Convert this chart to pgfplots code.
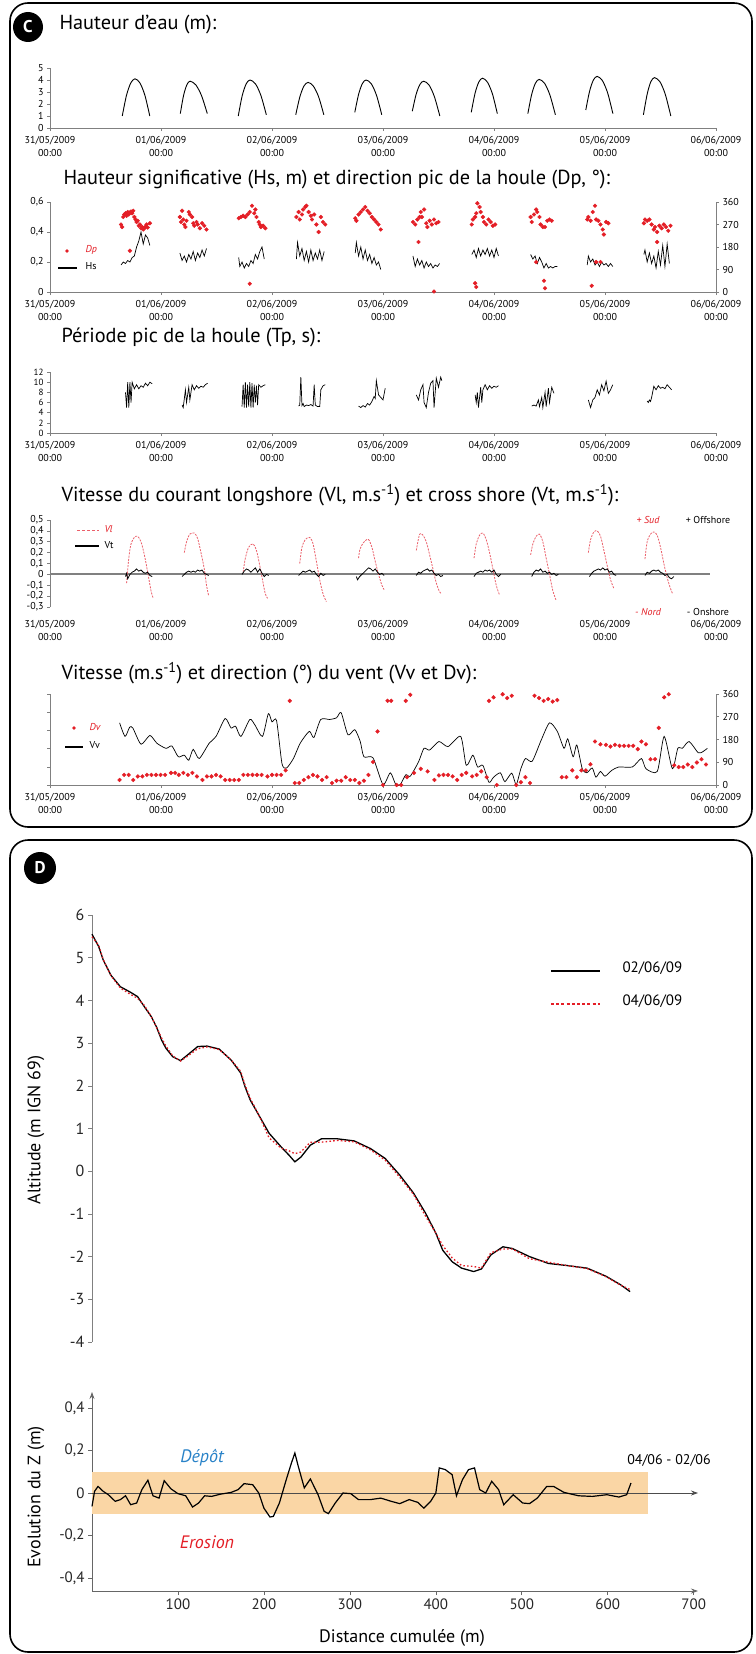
\documentclass[border=0pt]{standalone}
\usepackage{fontspec}
\setmainfont{PT Sans}
\usepackage{pgfplots}
\pgfplotsset{compat=1.18}
\usetikzlibrary{arrows.meta}
\definecolor{dred}{RGB}{228,30,38}
\definecolor{lred}{RGB}{235,95,105}
\definecolor{axgray}{RGB}{128,128,128}
\definecolor{bandor}{RGB}{250,214,165}
\definecolor{dblue}{RGB}{40,130,200}
\pgfplotsset{
  cstyle/.style={
    scale only axis, width=666pt, xmin=0, xmax=6,
    axis x line*=bottom, axis y line*=left,
    axis line style={axgray, line width=0.8pt},
    tick style={axgray, line width=0.6pt},
    tick align=outside, major tick length=3pt,
    xtick={0,1,2,3,4,5,6},
    xticklabels={{31/05/2009\\00:00},{01/06/2009\\00:00},{02/06/2009\\00:00},{03/06/2009\\00:00},{04/06/2009\\00:00},{05/06/2009\\00:00},{06/06/2009\\00:00}},
    xticklabel style={align=center, font=\fontsize{10}{13}\selectfont, yshift=-2pt},
    yticklabel style={font=\fontsize{10}{11}\selectfont},
    /pgf/number format/assume math mode=true,
    /pgf/number format/use comma,
    /pgf/number format/fixed,
    clip=false,
  },
  rstyle/.style={
    scale only axis, width=666pt, xmin=0, xmax=6,
    axis x line=none, axis y line*=right,
    axis line style={axgray, line width=0.8pt},
    tick style={axgray, line width=0.6pt},
    tick align=outside, major tick length=3pt,
    yticklabel style={font=\fontsize{10}{11}\selectfont},
    ymin=0, ymax=360, ytick={0,90,180,270,360},
    /pgf/number format/assume math mode=true,
    clip=false,
  },
  dot/.style={only marks, mark=*, mark size=1.9pt, dred, mark options={draw=dred, fill=dred}},
}
\begin{document}
\begin{tikzpicture}
\useasboundingbox (0pt,0pt) rectangle (755pt,-1654pt);
\fill[white] (0pt,0pt) rectangle (755pt,-1654pt);
% boxes
\draw[line width=1.6pt, rounded corners=18pt] (10pt,-3pt) rectangle (752pt,-827pt);
\draw[line width=1.6pt, rounded corners=18pt] (10pt,-840pt) rectangle (752pt,-1652pt);
\fill (28pt,-27pt) circle (15pt);
\node[white, font=\fontsize{17}{17}\selectfont\bfseries] at (28pt,-27pt) {C};
\fill (40pt,-868pt) circle (16pt);
\node[white, font=\fontsize{17}{17}\selectfont\bfseries] at (40pt,-868pt) {D};
% titles
\node[anchor=west, font=\fontsize{20.3}{23}\selectfont] at (56pt,-25pt) {Hauteur d'eau (m):};
\node[anchor=west, font=\fontsize{20.3}{23}\selectfont] at (60pt,-180pt) {Hauteur significative (Hs, m) et direction pic de la houle (Dp, °):};
\node[anchor=west, font=\fontsize{20.3}{23}\selectfont] at (58pt,-337pt) {Période pic de la houle (Tp, s):};
\node[anchor=west, font=\fontsize{20.3}{23}\selectfont] at (58pt,-495pt) {Vitesse du courant longshore (Vl, m.s\textsuperscript{-1}) et cross shore (Vt, m.s\textsuperscript{-1}):};
\node[anchor=west, font=\fontsize{20.3}{23}\selectfont] at (58pt,-673pt) {Vitesse (m.s\textsuperscript{-1}) et direction (°) du vent (Vv et Dv):};

% ---------- Plot 1 : Hauteur d'eau
\begin{axis}[cstyle, height=60pt, at={(50pt,-128pt)}, anchor=south west, ymin=0, ymax=5, ytick={0,1,2,3,4,5}]
\addplot[black, line width=0.9pt, smooth] coordinates {(0.651,1.0)(0.689,2.72)(0.728,3.76)(0.766,4.1)(0.810,3.76)(0.855,2.72)(0.899,1.0)};
\addplot[black, line width=0.9pt, smooth] coordinates {(1.174,1.2)(1.203,2.70)(1.233,3.60)(1.262,3.9)(1.313,3.60)(1.365,2.70)(1.417,1.2)};
\addplot[black, line width=0.9pt, smooth] coordinates {(1.696,1.0)(1.731,2.67)(1.767,3.67)(1.802,4.0)(1.851,3.68)(1.900,2.71)(1.949,1.1)};
\addplot[black, line width=0.9pt, smooth] coordinates {(2.214,1.1)(2.251,2.60)(2.288,3.50)(2.325,3.8)(2.372,3.50)(2.420,2.60)(2.467,1.1)};
\addplot[black, line width=0.9pt, smooth] coordinates {(2.746,1.3)(2.780,2.80)(2.814,3.70)(2.848,4.0)(2.895,3.68)(2.942,2.71)(2.989,1.1)};
\addplot[black, line width=0.9pt, smooth] coordinates {(3.264,1.4)(3.298,2.79)(3.332,3.62)(3.366,3.9)(3.415,3.58)(3.463,2.61)(3.512,1.0)};
\addplot[black, line width=0.9pt, smooth] coordinates {(3.795,1.3)(3.829,2.88)(3.863,3.83)(3.897,4.15)(3.941,3.82)(3.986,2.84)(4.030,1.2)};
\addplot[black, line width=0.9pt, smooth] coordinates {(4.305,1.2)(4.339,2.78)(4.373,3.73)(4.407,4.05)(4.456,3.72)(4.504,2.74)(4.553,1.1)};
\addplot[black, line width=0.9pt, smooth] coordinates {(4.827,1.5)(4.861,3.06)(4.895,3.99)(4.929,4.3)(4.976,3.96)(5.024,2.92)(5.071,1.2)};
\addplot[black, line width=0.9pt, smooth] coordinates {(5.346,1.1)(5.380,2.82)(5.413,3.86)(5.447,4.2)(5.496,3.84)(5.544,2.78)(5.593,1.0)};
\end{axis}

% ---------- Plot 2 : Hs and Dp
\begin{axis}[cstyle, height=90pt, at={(50pt,-292pt)}, anchor=south west, ymin=0, ymax=0.6, ytick={0,0.2,0.4,0.6}, /pgf/number format/precision=1, unbounded coords=jump]
\addplot[black, line width=0.7pt] coordinates {
(0.64,0.18)(0.66,0.20)(0.68,0.19)(0.70,0.21)(0.72,0.20)(0.74,0.23)(0.76,0.24)(0.78,0.30)(0.80,0.34)(0.82,0.40)(0.84,0.32)(0.86,0.38)(0.88,0.36)(0.90,0.31)(0.91,nan)
(1.17,0.26)(1.19,0.21)(1.21,0.24)(1.23,0.20)(1.25,0.25)(1.27,0.22)(1.29,0.27)(1.31,0.21)(1.33,0.26)(1.35,0.23)(1.37,0.28)(1.39,0.24)(1.41,0.29)(1.42,nan)
(1.70,0.23)(1.71,0.17)(1.73,0.20)(1.75,0.16)(1.77,0.19)(1.79,0.17)(1.81,0.21)(1.83,0.19)(1.85,0.25)(1.87,0.22)(1.89,0.27)(1.91,0.30)(1.93,0.22)(1.94,nan)
(2.22,0.22)(2.23,0.33)(2.25,0.24)(2.27,0.29)(2.29,0.21)(2.31,0.27)(2.33,0.20)(2.35,0.28)(2.37,0.21)(2.39,0.26)(2.41,0.22)(2.43,0.28)(2.45,0.21)(2.47,0.27)(2.48,nan)
(2.75,0.26)(2.76,0.33)(2.78,0.24)(2.80,0.30)(2.82,0.22)(2.84,0.28)(2.86,0.21)(2.88,0.25)(2.90,0.19)(2.92,0.23)(2.94,0.18)(2.96,0.20)(2.98,0.15)(2.99,nan)
(3.27,0.24)(3.29,0.17)(3.31,0.22)(3.33,0.18)(3.35,0.21)(3.37,0.16)(3.39,0.20)(3.41,0.17)(3.43,0.19)(3.45,0.16)(3.47,0.18)(3.49,0.17)(3.51,0.19)(3.52,nan)
(3.80,0.25)(3.82,0.28)(3.84,0.23)(3.86,0.29)(3.88,0.24)(3.90,0.28)(3.92,0.25)(3.94,0.29)(3.96,0.24)(3.98,0.28)(4.00,0.23)(4.02,0.29)(4.04,0.24)(4.05,nan)
(4.33,0.25)(4.35,0.22)(4.37,0.24)(4.39,0.19)(4.41,0.23)(4.43,0.20)(4.45,0.16)(4.47,0.19)(4.49,0.16)(4.51,0.17)(4.53,0.16)(4.55,0.17)(4.57,0.17)(4.58,nan)
(4.84,0.18)(4.85,0.24)(4.87,0.20)(4.89,0.22)(4.91,0.18)(4.93,0.20)(4.95,0.17)(4.97,0.20)(4.99,0.18)(5.01,0.19)(5.03,0.17)(5.05,0.19)(5.07,0.17)(5.08,nan)
(5.35,0.25)(5.36,0.28)(5.38,0.20)(5.40,0.26)(5.42,0.19)(5.44,0.24)(5.46,0.16)(5.48,0.27)(5.50,0.18)(5.52,0.31)(5.54,0.17)(5.56,0.32)(5.58,0.19)
};
\end{axis}
\begin{axis}[rstyle, height=90pt, at={(50pt,-292pt)}, anchor=south west]
\addplot[dot] coordinates {
(0.64,270)(0.65,260)(0.66,300)(0.67,310)(0.68,315)(0.69,305)(0.70,320)(0.71,310)(0.72,318)(0.73,322)(0.74,315)(0.75,325)(0.76,300)(0.77,290)(0.78,280)(0.79,285)(0.80,265)(0.81,270)(0.82,255)(0.83,260)(0.84,250)(0.85,255)(0.86,262)(0.87,270)(0.88,258)(0.90,275)(0.72,165)
(1.17,300)(1.18,280)(1.19,325)(1.20,290)(1.21,270)(1.22,260)(1.23,285)(1.25,320)(1.26,310)(1.28,300)(1.29,275)(1.30,265)(1.32,280)(1.33,270)(1.35,255)(1.37,275)(1.39,265)(1.41,250)
(1.70,295)(1.72,300)(1.74,305)(1.76,300)(1.78,310)(1.80,320)(1.82,345)(1.84,315)(1.85,330)(1.86,300)(1.88,280)(1.89,270)(1.90,260)(1.92,265)(1.94,255)(1.80,33)
(2.22,300)(2.24,320)(2.25,290)(2.27,310)(2.28,330)(2.30,340)(2.31,345)(2.33,320)(2.35,305)(2.36,290)(2.38,310)(2.40,270)(2.42,240)(2.44,300)(2.46,280)(2.48,270)
(2.75,295)(2.76,285)(2.78,310)(2.80,320)(2.82,330)(2.84,340)(2.86,325)(2.88,315)(2.90,300)(2.92,290)(2.94,280)(2.96,270)(2.98,250)
(3.27,280)(3.29,270)(3.31,290)(3.33,300)(3.34,320)(3.35,300)(3.37,330)(3.39,275)(3.40,260)(3.42,285)(3.44,270)(3.46,290)(3.48,275)(3.50,280)(3.32,200)(3.46,2)
(3.80,270)(3.81,290)(3.83,300)(3.84,315)(3.85,355)(3.87,340)(3.88,320)(3.90,300)(3.91,280)(3.93,270)(3.95,290)(3.97,280)(3.99,265)(4.01,270)(3.83,35)(3.84,20)
(4.33,300)(4.34,280)(4.36,310)(4.38,330)(4.39,320)(4.41,300)(4.42,270)(4.44,260)(4.46,260)(4.48,285)(4.50,290)(4.52,285)(4.38,120)(4.45,45)(4.46,15)
(4.84,290)(4.85,300)(4.87,285)(4.89,320)(4.91,345)(4.92,290)(4.94,285)(4.96,270)(4.98,250)(4.99,230)(5.01,280)(5.03,275)(4.92,120)(4.96,120)(4.88,25)
(5.35,275)(5.36,290)(5.38,285)(5.40,290)(5.42,270)(5.44,250)(5.45,260)(5.47,240)(5.49,265)(5.51,255)(5.53,270)(5.55,260)(5.57,245)(5.59,265)(5.47,200)
};
\end{axis}
% legend plot 2
\fill[dred] (67pt,-251pt) circle (1.9pt);
\node[anchor=west, dred, font=\fontsize{10}{11}\selectfont\itshape] at (82pt,-250pt) {Dp};
\draw[black, line width=1.2pt] (58pt,-268pt) -- (77pt,-268pt);
\node[anchor=west, font=\fontsize{10}{11}\selectfont] at (82pt,-266pt) {Hs};

% ---------- Plot 3 : Tp
\begin{axis}[cstyle, height=61pt, at={(50pt,-433pt)}, anchor=south west, ymin=0, ymax=12, ytick={0,2,4,6,8,10,12}, yticklabel style={font=\fontsize{9}{10}\selectfont}, unbounded coords=jump]
\addplot[black, line width=0.7pt] coordinates {
(0.68,8)(0.69,5)(0.70,10)(0.71,5)(0.72,10)(0.73,6)(0.74,10)(0.76,8.7)(0.78,9.5)(0.80,8.7)(0.82,9.3)(0.84,9.0)(0.86,9.8)(0.88,9.3)(0.90,10)(0.92,9.7)(0.93,nan)
(1.19,5.5)(1.20,5.0)(1.22,8.5)(1.23,6)(1.25,9)(1.26,6.5)(1.28,9.5)(1.30,8.5)(1.32,9.3)(1.34,8.8)(1.36,9.2)(1.38,9.0)(1.40,9.5)(1.42,9.8)(1.43,nan)
(1.73,5.2)(1.74,9.5)(1.75,5)(1.76,10)(1.77,5)(1.78,9.5)(1.79,5.2)(1.80,10)(1.81,5)(1.82,9.8)(1.83,5)(1.84,9.5)(1.85,6)(1.86,9.3)(1.87,5.5)(1.88,9.5)(1.90,9.0)(1.92,9.3)(1.94,9.5)(1.95,nan)
(2.24,5.3)(2.25,5.5)(2.26,11)(2.27,5.4)(2.28,5.8)(2.29,5.2)(2.31,5.5)(2.33,5.4)(2.35,5.6)(2.37,5.3)(2.38,9.5)(2.39,5.5)(2.41,5.2)(2.43,5.2)(2.44,8.5)(2.46,9.3)(2.48,9.5)(2.49,nan)
(2.78,5.3)(2.80,5.0)(2.82,5.4)(2.84,5.1)(2.86,5.8)(2.88,5.5)(2.90,6.2)(2.92,7.2)(2.93,6.8)(2.94,10.3)(2.96,7.5)(2.98,7.0)(3.00,6.5)(3.02,8.8)(3.03,nan)
(3.30,7.5)(3.32,6.5)(3.34,8.5)(3.36,9.5)(3.37,6.0)(3.39,5.0)(3.41,8.0)(3.43,9.8)(3.45,10.3)(3.46,5.0)(3.48,10.8)(3.50,9.0)(3.52,11.0)(3.53,10.3)(3.54,nan)
(3.83,7.5)(3.84,6.0)(3.85,8.0)(3.86,5.0)(3.88,9.0)(3.89,6.0)(3.90,8.5)(3.92,9.5)(3.94,8.5)(3.96,9.3)(3.98,8.8)(4.00,9.2)(4.02,9.0)(4.04,9.3)(4.05,nan)
(4.34,5.3)(4.36,5.5)(4.38,5.3)(4.40,6.5)(4.41,5.2)(4.43,7.0)(4.44,5.0)(4.46,8.0)(4.47,5.2)(4.49,8.8)(4.50,6.0)(4.52,9.0)(4.54,7.8)(4.55,nan)
(4.85,6.5)(4.87,5.0)(4.89,6.5)(4.91,7.0)(4.93,8.5)(4.95,7.5)(4.97,9.5)(4.99,8.3)(5.01,10.2)(5.03,7.8)(5.05,8.5)(5.07,9.5)(5.08,nan)
(5.38,6.3)(5.39,6.0)(5.40,6.5)(5.41,6.2)(5.42,7.0)(5.44,9.2)(5.46,8.5)(5.48,9.3)(5.50,8.8)(5.52,9.0)(5.54,8.7)(5.56,9.5)(5.58,9.0)(5.60,8.5)
};
\end{axis}

% ---------- Plot 4 : Vl and Vt
\begin{axis}[cstyle, height=87pt, at={(50pt,-607pt)}, anchor=south west, ymin=-0.3, ymax=0.5,
  ytick={-0.3,-0.2,-0.1,0,0.1,0.2,0.3,0.4,0.5}, /pgf/number format/precision=1,
  x axis line style={draw=none}, xtick style={draw=none}, xticklabel style={yshift=-5pt}, unbounded coords=jump]
\addplot[axgray, line width=1.8pt] coordinates {(0,0)(5.95,0)};
\addplot[lred, line width=0.8pt, dash pattern=on 2pt off 1.2pt, smooth] coordinates {(0.69,-0.08)(0.71,0.15)(0.73,0.28)(0.76,0.34)(0.79,0.35)(0.82,0.30)(0.85,0.18)(0.88,0.02)(0.91,-0.15)(0.93,-0.22)};
\addplot[lred, line width=0.8pt, dash pattern=on 2pt off 1.2pt, smooth] coordinates {(1.21,0.20)(1.23,0.30)(1.26,0.37)(1.30,0.38)(1.33,0.33)(1.36,0.20)(1.39,0.05)(1.41,-0.10)(1.43,-0.20)};
\addplot[lred, line width=0.8pt, dash pattern=on 2pt off 1.2pt, smooth] coordinates {(1.74,0.02)(1.76,0.15)(1.79,0.25)(1.83,0.28)(1.86,0.22)(1.89,0.08)(1.92,-0.08)(1.94,-0.18)(1.96,-0.22)};
\addplot[lred, line width=0.8pt, dash pattern=on 2pt off 1.2pt, smooth] coordinates {(2.25,0.10)(2.27,0.25)(2.30,0.32)(2.34,0.34)(2.37,0.28)(2.40,0.12)(2.43,-0.05)(2.46,-0.18)(2.49,-0.25)};
\addplot[lred, line width=0.8pt, dash pattern=on 2pt off 1.2pt, smooth] coordinates {(2.78,0.15)(2.79,0.22)(2.81,0.27)(2.84,0.31)(2.87,0.32)(2.90,0.25)(2.93,0.12)(2.96,0.0)(2.99,-0.10)(3.01,-0.14)};
\addplot[lred, line width=0.8pt, dash pattern=on 2pt off 1.2pt, smooth] coordinates {(3.30,0.22)(3.33,0.37)(3.36,0.36)(3.39,0.30)(3.42,0.18)(3.45,0.05)(3.48,-0.08)(3.51,-0.16)(3.53,-0.18)};
\addplot[lred, line width=0.8pt, dash pattern=on 2pt off 1.2pt, smooth] coordinates {(3.82,0.15)(3.84,0.28)(3.87,0.36)(3.90,0.38)(3.93,0.32)(3.96,0.20)(3.99,0.05)(4.02,-0.10)(4.05,-0.19)};
\addplot[lred, line width=0.8pt, dash pattern=on 2pt off 1.2pt, smooth] coordinates {(4.33,0.18)(4.35,0.28)(4.38,0.35)(4.41,0.37)(4.44,0.30)(4.47,0.15)(4.50,0.0)(4.53,-0.15)(4.56,-0.24)};
\addplot[lred, line width=0.8pt, dash pattern=on 2pt off 1.2pt, smooth] coordinates {(4.85,0.20)(4.87,0.32)(4.90,0.39)(4.93,0.40)(4.96,0.35)(4.99,0.22)(5.02,0.08)(5.05,-0.05)(5.08,-0.13)};
\addplot[lred, line width=0.8pt, dash pattern=on 2pt off 1.2pt, smooth] coordinates {(5.36,0.14)(5.38,0.30)(5.41,0.37)(5.44,0.39)(5.47,0.36)(5.50,0.25)(5.53,0.10)(5.56,-0.03)(5.59,-0.13)(5.61,-0.18)};
\addplot[black, line width=0.8pt] coordinates {
(0.68,-0.02)(0.69,0.01)(0.70,-0.04)(0.72,0.0)(0.74,0.02)(0.76,0.03)(0.78,0.05)(0.80,0.03)(0.82,0.04)(0.84,0.02)(0.86,0.01)(0.88,0.02)(0.90,-0.01)(0.92,-0.02)(0.93,nan)
(1.19,-0.02)(1.21,0.0)(1.23,0.02)(1.25,0.03)(1.27,0.02)(1.29,0.03)(1.31,0.02)(1.33,0.04)(1.35,0.03)(1.37,0.04)(1.39,0.01)(1.41,0.0)(1.43,-0.01)(1.44,nan)
(1.73,0.0)(1.75,0.03)(1.77,0.05)(1.79,0.04)(1.81,0.02)(1.83,0.04)(1.85,0.06)(1.87,0.02)(1.89,0.05)(1.91,0.01)(1.93,-0.02)(1.95,0.0)(1.97,-0.01)(1.98,nan)
(2.24,-0.01)(2.26,0.01)(2.28,0.03)(2.30,0.02)(2.32,0.03)(2.34,0.04)(2.36,0.02)(2.38,0.03)(2.40,0.0)(2.42,-0.02)(2.44,0.01)(2.46,-0.01)(2.48,0.0)(2.49,nan)
(2.76,-0.02)(2.77,-0.05)(2.79,-0.02)(2.81,0.0)(2.83,0.02)(2.85,0.04)(2.87,0.06)(2.89,0.05)(2.91,0.03)(2.93,0.05)(2.95,0.02)(2.97,0.0)(2.99,0.01)(3.01,-0.01)(3.02,nan)
(3.30,-0.01)(3.32,0.02)(3.34,0.01)(3.36,0.03)(3.38,0.04)(3.40,0.05)(3.42,0.03)(3.44,0.04)(3.46,0.01)(3.48,-0.01)(3.50,0.0)(3.52,-0.02)(3.54,-0.01)(3.55,nan)
(3.82,-0.02)(3.84,0.01)(3.86,0.02)(3.88,0.03)(3.90,0.02)(3.92,0.04)(3.94,0.03)(3.96,0.04)(3.98,0.02)(4.00,0.04)(4.02,0.0)(4.04,-0.02)(4.06,0.0)(4.07,nan)
(4.34,-0.02)(4.36,0.02)(4.38,0.04)(4.40,0.03)(4.42,0.05)(4.44,0.02)(4.46,0.03)(4.48,0.01)(4.50,0.02)(4.52,0.0)(4.54,0.01)(4.56,-0.01)(4.58,0.0)(4.59,nan)
(4.86,-0.02)(4.88,0.01)(4.90,0.03)(4.92,0.04)(4.94,0.05)(4.96,0.04)(4.98,0.06)(5.00,0.04)(5.02,0.05)(5.04,0.02)(5.06,0.03)(5.08,0.0)(5.10,-0.01)(5.11,nan)
(5.36,-0.01)(5.38,0.02)(5.40,0.01)(5.42,0.03)(5.44,0.04)(5.46,0.03)(5.48,0.04)(5.50,0.02)(5.52,0.01)(5.54,-0.01)(5.56,0.0)(5.58,-0.03)(5.60,-0.04)(5.62,-0.02)
};
\end{axis}
% legend + annotations plot 4
\draw[lred, line width=1pt, dash pattern=on 3pt off 2pt] (77pt,-530pt) -- (99pt,-530pt);
\node[anchor=west, dred, font=\fontsize{10}{11}\selectfont\itshape] at (101pt,-529pt) {Vl};
\draw[black, line width=1.2pt] (75pt,-546pt) -- (99pt,-546pt);
\node[anchor=west, font=\fontsize{10}{11}\selectfont] at (101pt,-545pt) {Vt};
\node[dred, font=\fontsize{10}{11}\selectfont\itshape] at (648pt,-520pt) {+ Sud};
\node[font=\fontsize{10}{11}\selectfont] at (708pt,-520pt) {+ Offshore};
\node[dred, font=\fontsize{10}{11}\selectfont\itshape] at (648pt,-612pt) {- Nord};
\node[font=\fontsize{10}{11}\selectfont] at (708pt,-612pt) {- Onshore};

% ---------- Plot 5 : Vv and Dv
\begin{axis}[cstyle, height=91pt, at={(50pt,-785pt)}, anchor=south west, ymin=0, ymax=10, ytick={0,2,4,6,8,10}, yticklabels={}]
\addplot[black, line width=0.7pt, smooth, tension=0.4] coordinates {
(0.627,6.83)(0.676,5.34)(0.717,6.34)(0.746,6.27)(0.82,4.48)(0.90,5.45)(0.963,4.59)(1.045,4.03)(1.098,4.29)(1.156,3.10)(1.209,3.28)(1.25,2.72)(1.29,3.92)(1.344,2.91)(1.434,4.59)(1.496,5.34)(1.578,7.31)(1.631,6.27)(1.672,6.46)(1.72,5.34)(1.80,7.20)(1.844,6.64)(1.914,5.34)(1.967,7.84)(2.0,6.94)(2.041,7.09)(2.09,2.35)(2.131,1.87)(2.193,2.91)(2.254,4.59)(2.336,5.90)(2.377,5.22)(2.439,7.20)(2.52,7.20)(2.582,7.39)(2.623,7.95)(2.684,5.52)(2.746,6.08)(2.795,4.78)(2.828,3.10)(2.91,2.99)(3.0,0.05)(3.066,1.34)(3.115,0.05)(3.156,0.05)(3.205,1.12)(3.246,0.97)(3.32,2.54)(3.369,4.03)(3.42,3.84)(3.504,4.78)(3.586,4.22)(3.70,5.34)(3.75,2.16)(3.81,3.28)(3.852,1.98)(3.90,2.16)(3.955,0.30)(3.996,0.86)(4.057,1.34)(4.098,0.37)(4.16,1.31)(4.20,0.05)(4.242,1.79)(4.283,2.91)(4.344,2.61)(4.426,4.96)(4.50,6.83)(4.57,5.90)(4.631,4.03)(4.664,5.07)(4.713,3.10)(4.746,4.40)(4.795,1.79)(4.836,1.34)(4.885,1.87)(4.918,0.86)(4.959,1.49)(5.0,0.97)(5.06,1.60)(5.123,1.98)(5.246,1.98)(5.328,2.91)(5.369,1.79)(5.471,1.49)(5.533,5.34)(5.607,1.79)(5.656,4.03)(5.697,4.03)(5.758,4.78)(5.84,3.54)(5.881,3.66)(5.922,4.03)
};
\end{axis}
\begin{axis}[rstyle, height=91pt, at={(50pt,-785pt)}, anchor=south west]
\addplot[dot] coordinates {
(0.627,20)(0.668,40)(0.709,40)(0.750,20)(0.791,34)(0.832,34)(0.873,40)(0.914,40)(0.955,40)(0.996,40)(1.037,40)(1.090,48)(1.127,48)(1.160,40)(1.201,48)(1.242,40)(1.283,48)(1.324,34)(1.373,20)(1.414,34)(1.455,34)(1.496,40)(1.537,34)(1.578,20)(1.619,20)(1.660,20)(1.701,20)(1.742,40)(1.783,40)(1.824,40)(1.865,40)(1.906,40)(1.959,34)(2.0,40)(2.041,40)(2.082,40)(2.123,58)(2.160,333)
(2.205,8)(2.246,8)(2.287,20)(2.328,31)(2.369,40)(2.410,34)(2.451,20)(2.492,31)(2.541,8)(2.582,17)(2.623,17)(2.664,31)(2.705,20)(2.746,20)(2.787,8)(2.828,17)(2.869,40)(2.910,91)(2.951,212)
(3.0,0)(3.123,0)(3.164,0)(3.217,31)(3.279,48)(3.340,64)(3.402,54)(3.463,20)(3.504,38)(3.545,40)(3.586,40)(3.627,34)(3.668,20)(3.709,40)(3.750,48)(3.803,34)(3.844,40)(3.885,54)(3.934,31)(4.025,0)(4.201,0)(4.242,11)(4.283,31)(4.324,8)
(3.041,333)(3.074,333)(3.205,333)(3.246,357)(3.955,333)(3.996,347)(4.078,359)(4.119,344)(4.160,353)(4.365,353)(4.406,344)(4.447,333)(4.488,340)(4.529,330)(4.570,336)
(4.611,31)(4.652,31)(4.705,58)(4.746,31)(4.787,58)(4.828,58)(4.869,82)
(4.910,172)(4.959,161)(5.008,159)(5.049,152)(5.090,159)(5.131,155)(5.172,155)(5.213,155)(5.254,155)(5.295,142)(5.328,172)(5.369,161)
(5.410,102)(5.451,102)(5.484,226)(5.533,347)(5.574,359)
(5.623,78)(5.664,71)(5.705,71)(5.746,81)(5.787,71)(5.828,89)(5.869,102)(5.910,81)
};
\end{axis}
% legend plot 5
\fill[dred] (74pt,-728pt) circle (1.9pt);
\node[anchor=west, dred, font=\fontsize{10}{11}\selectfont\itshape] at (86pt,-727pt) {Dv};
\draw[black, line width=1.2pt] (65pt,-747pt) -- (83pt,-747pt);
\node[anchor=west, font=\fontsize{10}{11}\selectfont] at (86pt,-745pt) {Vv};

% ================= Panel D
\begin{axis}[scale only axis, width=606pt, height=427pt, at={(92pt,-1342pt)}, anchor=south west,
  xmin=0, xmax=705, ymin=-4, ymax=6, axis x line=none, axis y line*=left,
  axis line style={axgray, line width=0.8pt}, tick style={axgray, line width=0.6pt},
  ytick={-4,-3,-2,-1,0,1,2,3,4,5,6}, tick align=outside, major tick length=4pt,
  yticklabel style={font=\fontsize{16}{18}\selectfont, black!85},
  /pgf/number format/assume math mode=true, clip=false]
\addplot[black, line width=1.3pt] coordinates {
(0,5.55)(7.8,5.26)(13,4.95)(22,4.59)(33,4.32)(44,4.20)(53,4.09)(61,3.85)(69,3.62)(75,3.38)(81,3.07)(86,2.88)(94,2.68)(103,2.59)(111,2.72)(123,2.92)(134,2.93)(148,2.86)(162,2.60)(173,2.30)(178,1.98)(184,1.67)(195,1.28)(206,0.89)(220,0.57)(229,0.38)(236,0.22)(243,0.33)(254,0.61)(267,0.76)(285,0.76)(305,0.71)(324,0.53)(341,0.30)(358,-0.09)(374,-0.51)(388,-0.98)(400,-1.45)(408,-1.85)(419,-2.12)(430,-2.27)(444,-2.35)(453,-2.29)(464,-1.96)(478,-1.77)(489,-1.81)(509,-2.0)(531,-2.16)(553,-2.21)(576,-2.27)(598,-2.46)(615,-2.66)(626,-2.82)
};
\addplot[dred, line width=1.3pt, dash pattern=on 1.6pt off 2.2pt] coordinates {
(0,5.49)(7.8,5.29)(13,4.96)(22,4.58)(33,4.29)(44,4.15)(53,4.05)(61,3.88)(69,3.62)(75,3.37)(81,3.12)(86,2.93)(94,2.70)(103,2.58)(111,2.69)(123,2.87)(134,2.91)(148,2.85)(162,2.60)(173,2.34)(178,2.02)(184,1.71)(195,1.28)(206,0.78)(220,0.54)(229,0.48)(236,0.41)(243,0.45)(254,0.68)(267,0.68)(285,0.72)(305,0.69)(324,0.50)(341,0.26)(358,-0.14)(374,-0.54)(388,-1.05)(400,-1.45)(408,-1.74)(419,-2.03)(430,-2.21)(444,-2.23)(453,-2.27)(464,-1.91)(478,-1.82)(489,-1.82)(509,-2.05)(531,-2.13)(553,-2.21)(576,-2.28)(598,-2.47)(615,-2.67)(626,-2.77)
};
\end{axis}
% legend D
\draw[black, line width=1.5pt] (551pt,-971pt) -- (600pt,-971pt);
\node[anchor=west, font=\fontsize{15}{17}\selectfont] at (619pt,-968pt) {02/06/09};
\draw[dred, line width=1.5pt, dash pattern=on 3pt off 2.2pt] (551pt,-1004pt) -- (600pt,-1004pt);
\node[anchor=west, font=\fontsize{15}{17}\selectfont] at (619pt,-1001pt) {04/06/09};
\node[rotate=90, font=\fontsize{18}{20}\selectfont] at (36pt,-1130pt) {Altitude (m IGN 69)};

% bottom D plot
\begin{axis}[scale only axis, width=606pt, height=199pt, at={(92pt,-1591pt)}, anchor=south west,
  xmin=0, xmax=705, ymin=-0.461, ymax=0.475, axis lines=left,
  axis line style={black!60, line width=0.8pt, -{Stealth[length=7pt,width=5pt]}},
  tick style={black!60, line width=0.6pt}, tick align=outside, major tick length=4pt,
  xtick={100,200,300,400,500,600,700}, ytick={-0.4,-0.2,0,0.2,0.4},
  ticklabel style={font=\fontsize{15}{17}\selectfont, black!85},
  /pgf/number format/assume math mode=true, /pgf/number format/use comma, /pgf/number format/fixed, /pgf/number format/precision=1,
  clip=false]
\addplot[draw=none, fill=bandor] coordinates {(0,-0.1)(647,-0.1)(647,0.1)(0,0.1)} -- cycle;
\addplot[black!70, line width=0.8pt, -{Stealth[length=7pt,width=5pt]}] coordinates {(0,0)(705,0)};
\addplot[black, line width=1.2pt] coordinates {
(0,-0.063)(3,0.008)(7,0.031)(13,0.008)(19,-0.008)(27,-0.039)(33,-0.031)(39,-0.013)(45,-0.055)(52,-0.047)(58,0.016)(65,0.060)(71,-0.013)(78,-0.024)(84,0.058)(92,0.019)(100,-0.003)(109,-0.013)(117,-0.066)(124,-0.047)(131,-0.013)(139,-0.016)(150,-0.005)(162,0.003)(170,0.016)(177,0.044)(187,0.039)(194,0)(200,-0.071)(207,-0.113)(211,-0.110)(218,-0.047)(226,0.063)(232,0.141)(236,0.188)(240,0.125)(247,0.024)(254,0.066)(263,-0.008)(270,-0.086)(275,-0.097)(283,-0.047)(292,0)(301,-0.003)(310,-0.031)(324,-0.031)(336,-0.024)(348,-0.039)(358,-0.050)(369,-0.031)(379,-0.044)(386,-0.071)(394,-0.039)(400,0)(404,0.118)(411,0.110)(419,0.086)(424,-0.013)(431,0.063)(438,0.110)(445,0.118)(451,0.016)(458,0)(465,0.055)(473,0.016)(479,-0.055)(490,-0.008)(501,-0.047)(509,-0.050)(518,-0.024)(529,0.031)(537,0.031)(549,0.003)(566,-0.013)(582,-0.016)(599,-0.008)(613,-0.019)(622,-0.008)(627,0.047)
};
\end{axis}
\node[dblue, font=\fontsize{18}{20}\selectfont\itshape] at (202pt,-1458pt) {Dépôt};
\node[dred, font=\fontsize{18}{20}\selectfont\itshape] at (207pt,-1542pt) {Erosion};
\node[font=\fontsize{14}{16}\selectfont] at (669pt,-1460pt) {04/06 - 02/06};
\node[rotate=90, font=\fontsize{18}{20}\selectfont] at (36pt,-1497pt) {Evolution du Z (m)};
\node[font=\fontsize{18}{20}\selectfont] at (402pt,-1638pt) {Distance cumulée (m)};
\end{tikzpicture}
\end{document}
